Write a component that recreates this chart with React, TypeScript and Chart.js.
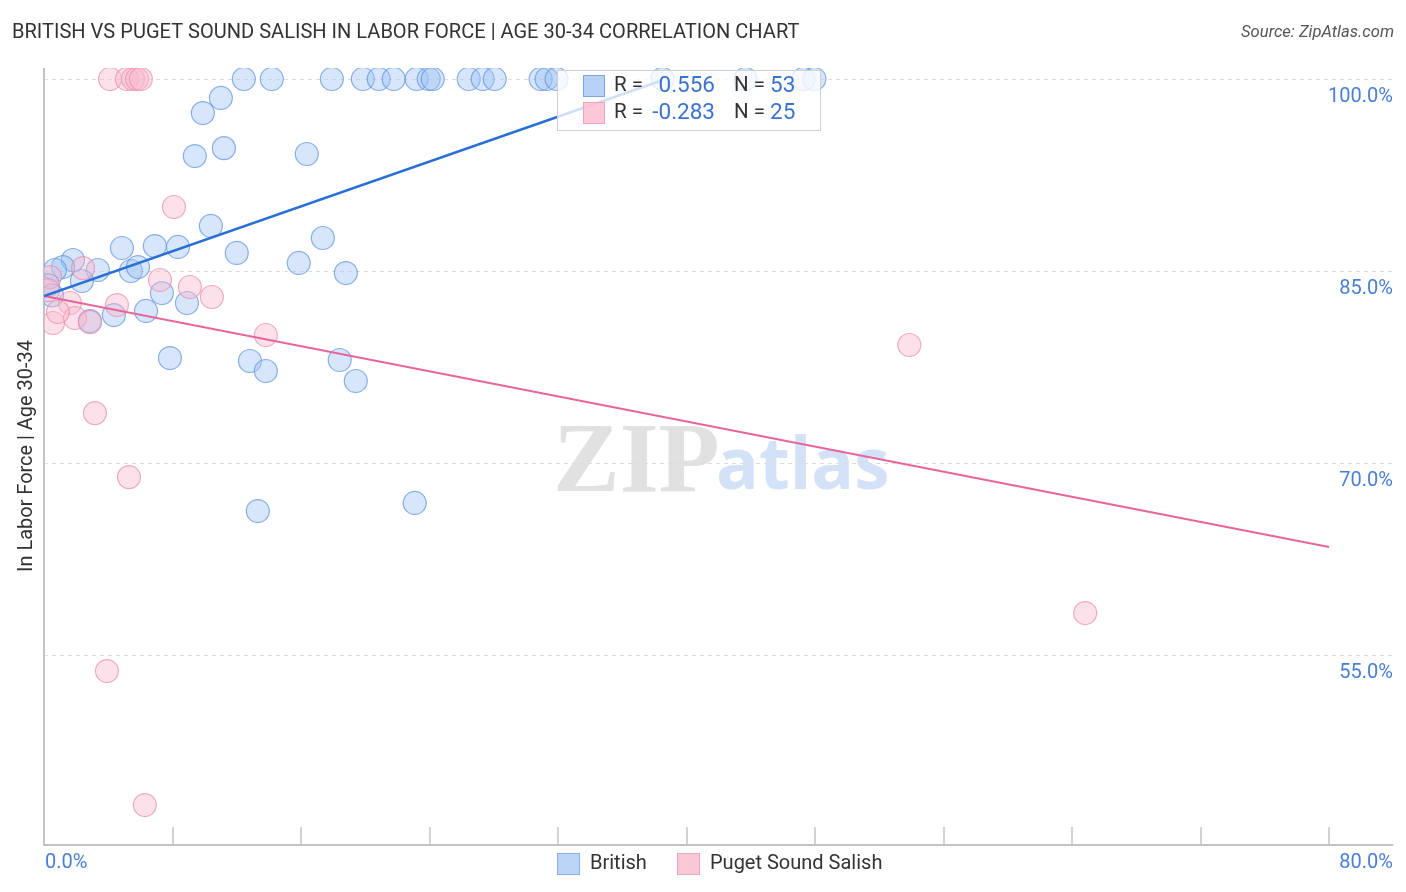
import React, { useEffect, useRef } from "react";
import { Chart, registerables } from "chart.js";

Chart.register(...registerables);

// ---------- DATA ----------
const britishX = [
  12.44, 14.18, 17.92, 19.85, 20.84, 21.77, 23.2, 23.95, 24.2, 26.44, 27.31, 28.06, 30.92, 31.29, 31.91, 38.5, 43.67, 47.28, 47.96,
  11.01, 9.89, 9.39, 11.2, 16.36,
  10.39, 6.9, 8.34, 4.85, 12.0, 17.36, 15.86, 18.79,
  1.8, 1.18, 0.68, 3.35, 5.41, 5.85, 2.36, 0.25, 0.5, 7.34, 8.9, 6.35, 4.35, 2.86,
  7.84, 12.82, 13.81, 18.41, 19.41,
  13.31, 23.08,
];
const britishY = [
  100, 100, 100, 100, 100, 100, 100, 100, 100, 100, 100, 100, 100, 100, 100, 100, 100, 100, 100,
  98.52, 97.34, 93.98, 94.6, 94.14,
  88.52, 86.95, 86.88, 86.8, 86.41, 87.58, 85.63, 84.84,
  85.86, 85.31, 85.08, 85.08, 85.0, 85.31, 84.22, 83.9, 83.1, 83.28, 82.5, 81.88, 81.56, 81.09,
  78.2, 77.97, 77.19, 78.05, 76.41,
  66.25, 66.88,
];
const salishX = [
  4.11, 5.16, 5.54, 5.79, 6.03,
  8.09, 2.43, 0.37, 1.62, 4.54, 1.93, 0.56, 0.87, 7.22, 9.08, 10.45, 2.86, 13.81,
  3.17, 5.29, 3.92, 6.28, 53.87, 64.82, 0.25,
];
const salishY = [
  100, 100, 100, 100, 100,
  90.0, 85.23, 84.53, 82.5, 82.34, 81.33, 80.94, 81.8, 84.3, 83.75, 82.97, 81.0, 80.0,
  73.9, 68.9, 53.75, 43.28, 79.22, 58.28, 83.5,
];
const britishTrendX = [0, 38.5];
const britishTrendY = [83.05, 99.9];
const salishTrendX = [0, 80];
const salishTrendY = [83.05, 63.44];

const seriesNames = ["British", "Puget Sound Salish"];
const rValues = ["0.556", "-0.283"];
const nValues = ["53", "25"];

const yTickValues = [100, 85, 70, 55];
const yTickLabels = ["100.0%", "85.0%", "70.0%", "55.0%"];
const xTickValues = [0, 8, 16, 24, 32, 40, 48, 56, 64, 72, 80];
const xLabelValues = [0, 80];
const xLabelTexts = ["0.0%", "80.0%"];

const titleText = "BRITISH VS PUGET SOUND SALISH IN LABOR FORCE | AGE 30-34 CORRELATION CHART";
const sourceText = "Source: ZipAtlas.com";
const yAxisTitle = "In Labor Force | Age 30-34";

// ---------- STYLE ----------
const BLUE_FILL = "rgba(160, 196, 242, 0.42)";
const BLUE_BORDER = "rgba(92, 145, 222, 0.7)";
const PINK_FILL = "rgba(248, 184, 204, 0.42)";
const PINK_BORDER = "rgba(236, 140, 170, 0.7)";
const BLUE_LINE = "#2a6fd6";
const PINK_LINE = "#e8659a";
const TICK_BLUE = "#4a7fd4";
const FONT = "Roboto, 'Noto Sans', sans-serif";

const toPts = (xs: number[], ys: number[]) => xs.map((x, i) => ({ x, y: ys[i] }));

function fitFont(ctx: CanvasRenderingContext2D, text: string, target: number, base: number, style = "") {
  ctx.font = `${style}${base}px ${FONT}`;
  const w = ctx.measureText(text).width;
  const size = (base * target) / w;
  ctx.font = `${style}${size.toFixed(2)}px ${FONT}`;
}

const overlay = {
  id: "overlay",
  beforeDatasetsDraw(chart: any) {
    const { ctx, chartArea: a, scales } = chart;
    const xs = scales.x, ys = scales.y;
    ctx.save();
    // watermark
    ctx.textBaseline = "alphabetic";
    ctx.textAlign = "left";
    ctx.fillStyle = "rgba(200,200,200,0.55)";
    ctx.font = "bold 100px 'Liberation Serif', 'DejaVu Serif', serif";
    ctx.fillText("ZIP", 553, 491);
    ctx.fillStyle = "rgba(175,202,240,0.55)";
    ctx.font = "bold 71px 'Open Sans', sans-serif";
    ctx.fillText("atlas", 716, 489);
    // grid
    ctx.strokeStyle = "#dcdcdc";
    ctx.lineWidth = 1;
    ctx.setLineDash([4, 4]);
    yTickValues.forEach((v) => {
      const y = Math.round(ys.getPixelForValue(v)) + 0.5;
      ctx.beginPath();
      ctx.moveTo(a.left, y);
      ctx.lineTo(a.right, y);
      ctx.stroke();
    });
    ctx.setLineDash([]);
    // axes
    ctx.strokeStyle = "#b0b0b0";
    ctx.lineWidth = 1.5;
    ctx.beginPath();
    ctx.moveTo(a.left, a.top);
    ctx.lineTo(a.left, a.bottom);
    ctx.lineTo(a.right, a.bottom);
    ctx.stroke();
    ctx.strokeStyle = "#c4c4c4";
    xTickValues.forEach((v) => {
      if (v === 0) return;
      const x = Math.round(xs.getPixelForValue(v));
      ctx.beginPath();
      ctx.moveTo(x, a.bottom);
      ctx.lineTo(x, a.bottom - 18);
      ctx.stroke();
    });
    ctx.restore();
  },
  afterDatasetsDraw(chart: any) {
    const { ctx } = chart;
    ctx.save();
    // stats legend box
    const bx = 557, by = 70, bw = 263, bh = 60;
    ctx.fillStyle = "rgba(255,255,255,0.78)";
    ctx.fillRect(bx, by, bw, bh);
    ctx.strokeStyle = "#d0d0d0";
    ctx.lineWidth = 1;
    ctx.strokeRect(bx + 0.5, by + 0.5, bw, bh);
    const fills = ["rgba(170,202,245,0.85)", "rgba(250,190,208,0.85)"];
    const borders = ["#7aa6e6", "#eea2bb"];
    ctx.textBaseline = "middle";
    [0, 1].forEach((i) => {
      const cy = 86 + i * 27;
      ctx.fillStyle = fills[i];
      ctx.fillRect(583, cy - 11, 22, 22);
      ctx.strokeStyle = borders[i];
      ctx.strokeRect(583.5, cy - 10.5, 21, 21);
      ctx.font = `20.5px ${FONT}`;
      ctx.textAlign = "left";
      ctx.fillStyle = "#333";
      ctx.fillText("R = ", 614, cy);
      ctx.fillText("N = ", 734, cy);
      ctx.fillStyle = "#3b73d0";
      ctx.font = `22.5px ${FONT}`;
      ctx.textAlign = "right";
      ctx.fillText(rValues[i], 715, cy);
      ctx.textAlign = "left";
      ctx.fillText(nValues[i], 770, cy);
    });
    ctx.restore();
  },
  afterDraw(chart: any) {
    const { ctx, scales } = chart;
    const xs = scales.x, ys = scales.y;
    ctx.save();
    // title
    ctx.textBaseline = "middle";
    ctx.textAlign = "left";
    ctx.fillStyle = "#333";
    fitFont(ctx, titleText, 788, 18);
    ctx.fillText(titleText, 12, 33);
    ctx.textAlign = "right";
    ctx.fillStyle = "#555";
    fitFont(ctx, sourceText, 153, 15, "italic ");
    ctx.fillText(sourceText, 1394, 33);
    // y ticks
    ctx.font = `20px ${FONT}`;
    ctx.fillStyle = TICK_BLUE;
    ctx.textAlign = "right";
    yTickValues.forEach((v, i) => {
      ctx.fillText(yTickLabels[i], 1393, ys.getPixelForValue(v) + 18);
    });
    // x labels
    xLabelValues.forEach((v, i) => {
      ctx.textAlign = i === 0 ? "left" : "right";
      const x = xs.getPixelForValue(v);
      ctx.fillText(xLabelTexts[i], i === 0 ? x + 1 : 1393, 863);
    });
    // y title
    ctx.save();
    ctx.translate(27, 456);
    ctx.rotate(-Math.PI / 2);
    ctx.textAlign = "center";
    ctx.fillStyle = "#333";
    fitFont(ctx, yAxisTitle, 232, 18);
    ctx.fillText(yAxisTitle, 0, 0);
    ctx.restore();
    // bottom legend
    const lf = ["rgba(188,212,245,1)", "rgba(251,200,215,1)"];
    const lb = ["#8ab0e8", "#efa8bf"];
    const sqx = [557, 677];
    ctx.font = `20px ${FONT}`;
    ctx.textAlign = "left";
    seriesNames.forEach((n, i) => {
      ctx.fillStyle = lf[i];
      ctx.fillRect(sqx[i], 853, 23, 22);
      ctx.strokeStyle = lb[i];
      ctx.lineWidth = 1;
      ctx.strokeRect(sqx[i] + 0.5, 853.5, 22, 21);
      ctx.fillStyle = "#333";
      ctx.fillText(n, sqx[i] + 33, 864);
    });
    ctx.restore();
  },
};

export default function App() {
  const ref = useRef<HTMLCanvasElement | null>(null);
  useEffect(() => {
    if (!ref.current) return;
    const chart = new Chart(ref.current, {
      type: "scatter",
      data: {
        datasets: [
          {
            type: "line",
            data: toPts(britishTrendX, britishTrendY),
            borderColor: BLUE_LINE,
            borderWidth: 2.5,
            pointRadius: 0,
            fill: false,
            order: 0,
          } as any,
          {
            type: "line",
            data: toPts(salishTrendX, salishTrendY),
            borderColor: PINK_LINE,
            borderWidth: 2.2,
            pointRadius: 0,
            fill: false,
            order: 0,
          } as any,
          {
            label: seriesNames[0],
            data: toPts(britishX, britishY),
            backgroundColor: BLUE_FILL,
            borderColor: BLUE_BORDER,
            borderWidth: 1.2,
            pointRadius: 11.5,
            order: 2,
          },
          {
            label: seriesNames[1],
            data: toPts(salishX, salishY),
            backgroundColor: PINK_FILL,
            borderColor: PINK_BORDER,
            borderWidth: 1.2,
            pointRadius: 11.5,
            order: 1,
          },
        ],
      },
      options: {
        responsive: false,
        animation: false,
        layout: { padding: { left: 44, right: 12, top: 68, bottom: 47 } },
        plugins: { legend: { display: false }, tooltip: { enabled: false } },
        scales: {
          x: { type: "linear", min: 0, max: 84, display: false },
          y: { type: "linear", min: 40.16, max: 100.86, display: false },
        },
      },
      plugins: [overlay],
    });
    return () => chart.destroy();
  }, []);
  return (
    <canvas
      ref={ref}
      width={1406}
      height={892}
      style={{ position: "absolute", left: 0, top: 0, width: 1406, height: 892, display: "block" }}
    />
  );
}
